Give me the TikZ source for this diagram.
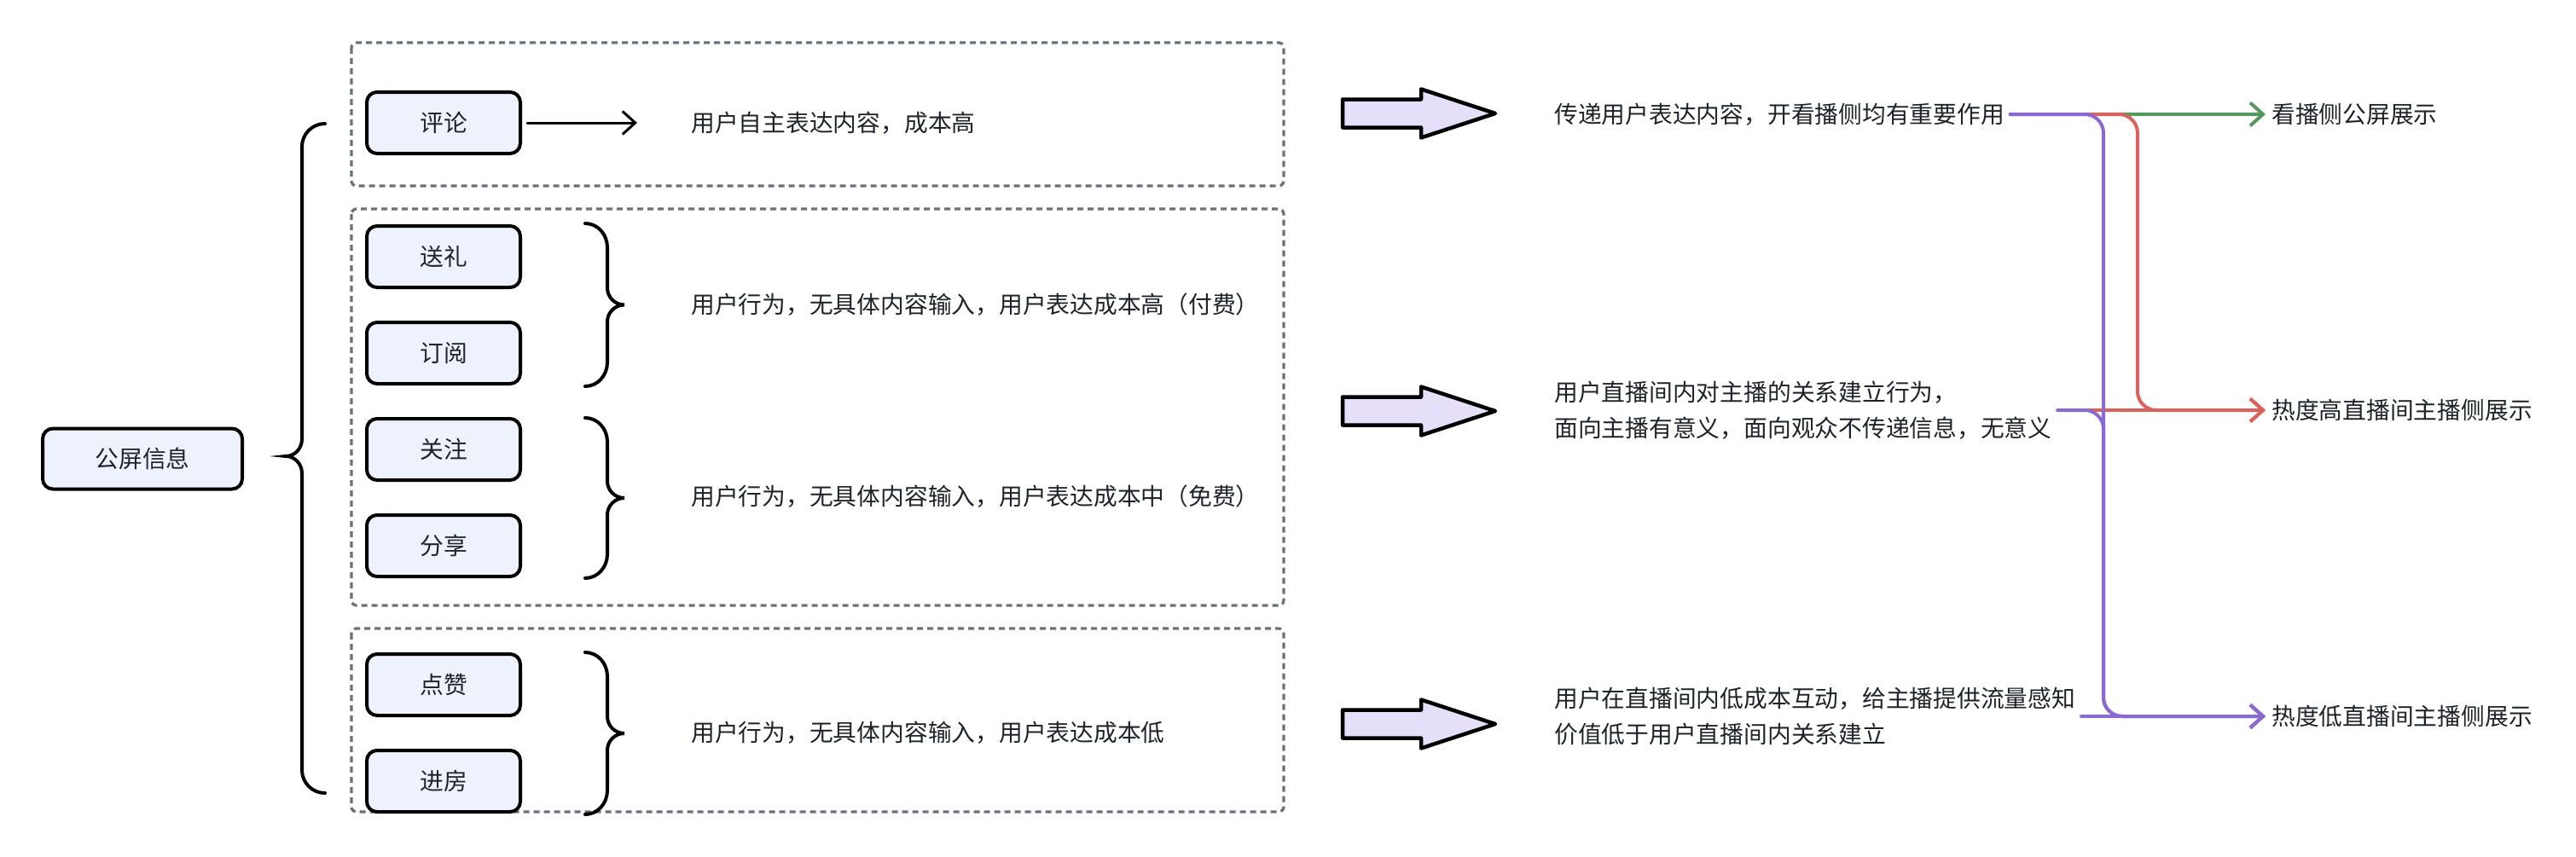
\documentclass[tikz,border=0pt]{standalone}
\usepackage{fontspec}
\newfontfamily\cjk{Noto Sans CJK SC}
\usetikzlibrary{arrows.meta}
\definecolor{boxfill}{HTML}{EEF2FC}
\definecolor{arrfill}{HTML}{E5DFFA}
\definecolor{dashgray}{HTML}{6B7079}
\definecolor{txt}{HTML}{1F2329}
\definecolor{lkpurple}{HTML}{8A6AD0}
\definecolor{lkred}{HTML}{D9625C}
\definecolor{lkgreen}{HTML}{54985F}
\begin{document}
\begin{tikzpicture}[
  every node/.style={font={\cjk\fontsize{15.8}{24}\selectfont}, text=txt},
  item/.style={draw=black, line width=0.08cm, rounded corners=0.24cm, fill=boxfill, minimum width=3.6cm, minimum height=1.44cm},
  grp/.style={draw=dashgray, line width=0.066cm, dash pattern=on 0.14cm off 0.1cm, rounded corners=0.12cm},
  brc/.style={line width=0.08cm, line cap=round},
  fat/.style={draw=black, line width=0.09cm, fill=arrfill, line join=round},
  desc/.style={anchor=west, inner sep=0},
  outc/.style={anchor=west, inner xsep=0.13cm, inner ysep=0, align=left},
  dest/.style={anchor=west, inner xsep=0.14cm, inner ysep=0},
  barb/.style={-{Straight Barb[length=0.3cm,width=0.54cm]}, line width=0.08cm, line cap=round, rounded corners=0.44cm},
]
\useasboundingbox (0,0) rectangle (60.4,-20.08);

% Group frames
\draw[grp] (8.24,-1.0) rectangle (30.1,-4.36);
\draw[grp] (8.24,-4.9) rectangle (30.1,-14.2);
\draw[grp] (8.24,-14.74) rectangle (30.1,-19.04);

% Root and big brace
\node[item, minimum width=4.68cm, minimum height=1.42cm] (info) at (3.34,-10.76) {公屏信息};
\draw[brc] (7.62,-2.9) to[out=180,in=90] (7.08,-3.44) -- (7.08,-10.3) to[out=-90,in=0] (6.7,-10.7)
  to[out=0,in=90] (7.08,-11.1) -- (7.08,-18.06) to[out=-90,in=180] (7.62,-18.6);

% Items
\node[item] (pl) at (10.4,-2.88) {评论};
\node[item] (sl) at (10.4,-6.02) {送礼};
\node[item] (dy) at (10.4,-8.28) {订阅};
\node[item] (gz) at (10.4,-10.54) {关注};
\node[item] (fx) at (10.4,-12.8) {分享};
\node[item] (dz) at (10.4,-16.06) {点赞};
\node[item] (jf) at (10.4,-18.32) {进房};

% Small braces
\foreach \yt/\yb [evaluate=\yt as \ym using (\yt+\yb)/2] in {-5.24/-9.06, -9.8/-13.56, -15.3/-19.1}
  \draw[brc] (13.72,\yt) to[out=0,in=90] (14.24,\yt-0.56) -- (14.24,\ym+0.4) to[out=-90,in=180] (14.64,\ym)
    to[out=180,in=90] (14.24,\ym-0.4) -- (14.24,\yb+0.56) to[out=-90,in=0] (13.72,\yb);

% Descriptions
\node[desc] (d1) at (16.2,-2.88) {用户自主表达内容，成本高};
\node[desc] (d2) at (16.2,-7.14) {用户行为，无具体内容输入，用户表达成本高（付费）};
\node[desc] (d3) at (16.2,-11.64) {用户行为，无具体内容输入，用户表达成本中（免费）};
\node[desc] (d4) at (16.2,-17.18) {用户行为，无具体内容输入，用户表达成本低};
\draw[barb, line width=0.06cm, rounded corners=0, shorten <=0.12cm, shorten >=1.26cm] (pl.east) -- (d1.west);

% Fat arrows
\foreach \y in {-2.66,-9.64,-16.98}
  \draw[fat] (31.48,\y+0.33) -- (33.32,\y+0.33) -- (33.32,\y+0.57) -- (35.06,\y) -- (33.32,\y-0.57)
    -- (33.32,\y-0.33) -- (31.48,\y-0.33) -- cycle;

% Outcomes
\node[outc] (k1) at (36.31,-2.68) {传递用户表达内容，开看播侧均有重要作用};
\node[outc] (k2) at (36.31,-9.62) {用户直播间内对主播的关系建立行为，\\面向主播有意义，面向观众不传递信息，无意义};
\node[outc] (k3) at (36.31,-16.8) {用户在直播间内低成本互动，给主播提供流量感知\\价值低于用户直播间内关系建立};

% Display targets
\node[dest] (g1) at (53.12,-2.68) {看播侧公屏展示};
\node[dest] (g2) at (53.12,-9.62) {热度高直播间主播侧展示};
\node[dest] (g3) at (53.12,-16.8) {热度低直播间主播侧展示};
\coordinate (lanep) at (49.32,0);
\coordinate (laner) at (50.12,0);

% Routes
\draw[barb, lkgreen] (k1.east) -- (g1.west);
\draw[barb, lkred] (k1.east) -- (k1.east -| laner) |- (g2.west);
\draw[barb, lkred] (k2.east) -- (g2.west);
\draw[barb, lkpurple] (k1.east) -- (k1.east -| lanep) |- (g3.west);
\draw[barb, lkpurple] (k2.east) -- (k2.east -| lanep) |- (g3.west);
\draw[barb, lkpurple] (k3.east) -- (g3.west);
\end{tikzpicture}
\end{document}
